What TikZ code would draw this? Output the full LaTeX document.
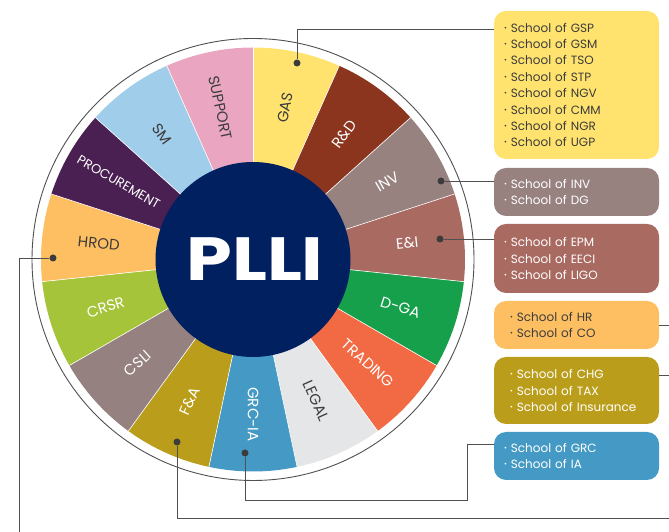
\documentclass[tikz,border=0pt]{standalone}
\usepackage{fontspec}
\setmainfont{Poppins}
\usetikzlibrary{positioning, calc}
\definecolor{seg-gas}{RGB}{255,227,110}
\definecolor{seg-rnd}{RGB}{139,53,30}
\definecolor{seg-inv}{RGB}{151,130,128}
\definecolor{seg-eni}{RGB}{169,106,98}
\definecolor{seg-dga}{RGB}{23,160,75}
\definecolor{seg-trading}{RGB}{242,106,68}
\definecolor{seg-legal}{RGB}{229,230,232}
\definecolor{seg-grc}{RGB}{68,154,196}
\definecolor{seg-fa}{RGB}{186,158,27}
\definecolor{seg-csli}{RGB}{149,129,128}
\definecolor{seg-crsr}{RGB}{166,196,58}
\definecolor{seg-hrod}{RGB}{253,191,98}
\definecolor{seg-proc}{RGB}{74,31,82}
\definecolor{seg-sm}{RGB}{160,205,233}
\definecolor{seg-support}{RGB}{234,166,192}
\definecolor{plli-navy}{RGB}{0,32,96}
\definecolor{txtdark}{RGB}{60,60,60}
\definecolor{linegray}{RGB}{80,80,80}
\newcommand{\bul}{\raisebox{0.3ex}{\fontsize{7}{7}\selectfont\textbullet}\ }

\begin{document}
\begin{tikzpicture}[x=1pt, y=1pt,
  lbl/.style={inner sep=0pt},
  school/.style={rounded corners=12pt, minimum width=165pt, text width=145pt, inner xsep=10pt, align=left, font=\fontsize{12}{16.4}\selectfont},
  pin/.style={circle, fill=txtdark, inner sep=0pt, minimum size=7pt},
  link/.style={draw=linegray, line width=0.9pt},
]
  \useasboundingbox (0,0) rectangle (669,532);
  \coordinate (c) at (253,272.5);
  \coordinate (edgeR) at (669,0);
  \coordinate (edgeB) at (19,0);

  % Wheel segments
  \foreach \i/\col/\txt/\tcol/\fs in {0/seg-gas/GAS/txtdark/15, 1/seg-rnd/R\&D/white/15,
      2/seg-inv/INV/white/15, 3/seg-eni/E\&I/white/15, 4/seg-dga/D-GA/white/15,
      5/seg-trading/TRADING/white/15, 6/seg-legal/LEGAL/txtdark/15, 7/seg-grc/GRC-IA/white/15,
      8/seg-fa/F\&A/white/15, 9/seg-csli/CSLI/white/15, 10/seg-crsr/CRSR/white/15,
      11/seg-hrod/HROD/txtdark/15, 12/seg-proc/PROCUREMENT/white/13, 13/seg-sm/SM/txtdark/15,
      14/seg-support/SUPPORT/txtdark/15}{
    \pgfmathsetmacro\a{78-24*\i}
    \pgfmathsetmacro\r{\a+180*(\i>7)}
    \fill[\col] (c) -- ++(\a+12:212) arc[start angle=\a+12, end angle=\a-12, radius=212] -- cycle;
    \node[lbl, text=\tcol, rotate=\r, font=\fontsize{\fs}{\fs}\selectfont] (lbl\i) at ($(c)+(\a:155)$) {\txt};
  }
  \foreach \i in {0,...,14}
    \draw[white, line width=0.6pt] (c) -- ++(90-24*\i:212);

  % Centre
  \fill[plli-navy] (c) circle[radius=97.5];
  \node[text=white, font=\fontsize{61}{61}\selectfont\bfseries] (plli) at ([xshift=2pt]c) {\scalebox{1.2}[1]{PLLI}};
  \draw[linegray, line width=0.9pt] (c) circle[radius=221];

  % Schools
  \node[school, fill=seg-gas, text=txtdark, minimum height=148pt] (gasbox) at (576.5,447)
    {\bul School of GSP\\\bul School of GSM\\\bul School of TSO\\\bul School of STP\\
     \bul School of NGV\\\bul School of CMM\\\bul School of NGR\\\bul School of UGP};
  \node[school, fill=seg-inv, text=white, minimum height=48pt] (invbox) at (576.5,340)
    {\bul School of INV\\\bul School of DG};
  \node[school, fill=seg-eni, text=white, minimum height=69pt] (enibox) at (576.5,273.5)
    {\bul School of EPM\\\bul School of EECI\\\bul School of LIGO};
  \node[school, fill=seg-hrod, text=txtdark, minimum height=48pt, inner xsep=16pt, text width=133pt] (hrbox) at (576.5,207)
    {\bul School of HR\\\bul School of CO};
  \node[school, fill=seg-fa, text=white, minimum height=67pt, inner xsep=16pt, text width=133pt] (chgbox) at (576.5,141.5)
    {\bul School of CHG\\\bul School of TAX\\\bul School of Insurance};
  \node[school, fill=seg-grc, text=white, minimum height=48pt] (grcbox) at (576.5,76)
    {\bul School of GRC\\\bul School of IA};

  % Pins
  \node[pin] (pingas) at (297,469) {};
  \node[pin] (pininv) at (441,351) {};
  \node[pin] (pineni) at (440,293) {};
  \node[pin] (pinhrod) at (53,274) {};
  \node[pin] (pinfa) at (177,90) {};
  \node[pin] (pingrc) at (245,79) {};

  % Connectors
  \draw[link] (pingas) |- ([yshift=-19pt]gasbox.north west);
  \draw[link] (pininv) -- (pininv -| invbox.west);
  \draw[link] (pineni) -- (pineni -| enibox.west);
  \draw[link] (hrbox.east) -- (hrbox.east -| edgeR);
  \coordinate (chgout) at ([yshift=15.5pt]chgbox.east);
  \draw[link] (chgout) -- (chgout -| edgeR);
  \draw[link] (pinhrod) -| (edgeB);
  \coordinate (faout) at (669,14);
  \draw[link] (pinfa) |- (faout);
  \coordinate (grcbend) at (467,32);
  \coordinate (grcin) at ([yshift=12pt]grcbox.west);
  \draw[link] (pingrc) |- (grcbend) |- (grcin);
\end{tikzpicture}
\end{document}
